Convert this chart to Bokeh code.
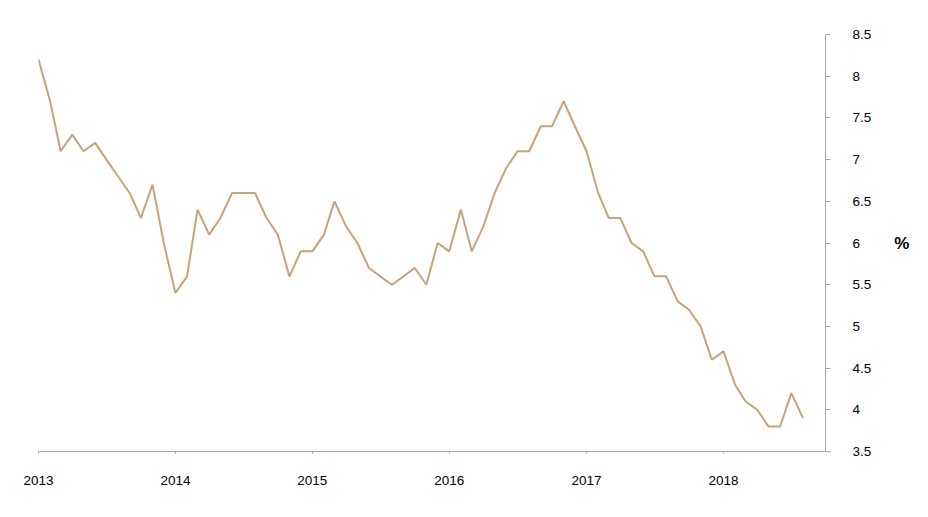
import pandas as pd
from bokeh.plotting import figure
from bokeh.models import Range1d, FixedTicker, DatetimeTickFormatter, NumeralTickFormatter
from bokeh.embed import file_html
from bokeh.resources import INLINE

# Monthly values, Jan 2013 - Aug 2018 (%)
values_2013 = [8.2, 7.7, 7.1, 7.3, 7.1, 7.2, 7.0, 6.8, 6.6, 6.3, 6.7, 6.0]
values_2014 = [5.4, 5.6, 6.4, 6.1, 6.3, 6.6, 6.6, 6.6, 6.3, 6.1, 5.6, 5.9]
values_2015 = [5.9, 6.1, 6.5, 6.2, 6.0, 5.7, 5.6, 5.5, 5.6, 5.7, 5.5, 6.0]
values_2016 = [5.9, 6.4, 5.9, 6.2, 6.6, 6.9, 7.1, 7.1, 7.4, 7.4, 7.7, 7.4]
values_2017 = [7.1, 6.6, 6.3, 6.3, 6.0, 5.9, 5.6, 5.6, 5.3, 5.2, 5.0, 4.6]
values_2018 = [4.7, 4.3, 4.1, 4.0, 3.8, 3.8, 4.2, 3.9]

values = values_2013 + values_2014 + values_2015 + values_2016 + values_2017 + values_2018
dates = pd.date_range("2013-01-01", periods=len(values), freq="MS")

year_ticks = ["2013", "2014", "2015", "2016", "2017", "2018"]
y_ticks = [3.5, 4, 4.5, 5, 5.5, 6, 6.5, 7, 7.5, 8, 8.5]

FONT = "Liberation Sans"
LINE_COLOR = "#C4A47C"
AXIS_COLOR = "#A6A6A6"

p = figure(
    width=912, height=501,
    x_axis_type="datetime",
    x_range=Range1d(pd.Timestamp("2013-01-01"), pd.Timestamp("2018-09-30")),
    y_range=Range1d(3.5, 8.5),
    y_axis_location="right",
    output_backend="svg", toolbar_location=None,
    min_border_left=38, min_border_right=87, min_border_top=34, min_border_bottom=50,
)
p.outline_line_color = None
p.xgrid.visible = False
p.ygrid.visible = False
p.background_fill_color = "white"
p.border_fill_color = "white"

p.line(dates, values, line_color=LINE_COLOR, line_width=2)

# x axis
xa = p.xaxis[0]
xa.ticker = FixedTicker(ticks=[pd.Timestamp(f"{y}-01-01").value // 10**6 for y in year_ticks])
xa.formatter = DatetimeTickFormatter(
    years="%Y", months="%Y", days="%Y", hours="%Y", minutes="%Y",
    seconds="%Y", milliseconds="%Y", microseconds="%Y",
)
xa.axis_line_color = AXIS_COLOR
xa.major_tick_line_color = AXIS_COLOR
xa.major_tick_out = 2
xa.major_tick_in = 0
xa.minor_tick_line_color = None
xa.major_label_standoff = 22
xa.major_label_text_font = FONT
xa.major_label_text_font_size = "13.5px"
xa.major_label_text_color = "#000000"

# y axis (right)
ya = p.yaxis[0]
ya.ticker = FixedTicker(ticks=y_ticks)
ya.formatter = NumeralTickFormatter(format="0.[0]")
ya.axis_line_color = AXIS_COLOR
ya.major_tick_line_color = AXIS_COLOR
ya.major_tick_out = 5
ya.major_tick_in = 0
ya.minor_tick_line_color = None
ya.major_label_standoff = 22
ya.major_label_text_font = FONT
ya.major_label_text_font_size = "13.5px"
ya.major_label_text_color = "#000000"
ya.axis_label = "%"
ya.axis_label_orientation = "horizontal"
ya.axis_label_standoff = 20
ya.axis_label_text_font = FONT
ya.axis_label_text_font_style = "bold"
ya.axis_label_text_font_size = "17px"
ya.axis_label_text_color = "#000000"

open("out.html", "w").write(file_html(p, INLINE))
